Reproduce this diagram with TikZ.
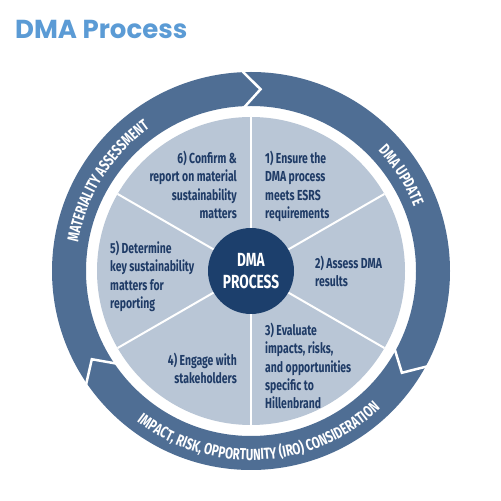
\documentclass[tikz,border=0pt]{standalone}
\usepackage{fontspec}
\usepackage{tikz}
\usetikzlibrary{decorations.text}
\newfontfamily\condfont[FakeStretch=0.72]{Fira Sans}
\newfontfamily\headfont{Poppins}
\definecolor{ringblue}{HTML}{4F6E94}
\definecolor{piegray}{HTML}{B9C6D6}
\definecolor{hubnavy}{HTML}{1C3F6C}
\definecolor{stepnavy}{HTML}{1F3B66}
\definecolor{titleblue}{HTML}{5B9BD5}

\begin{document}
\begin{tikzpicture}[x=1pt, y=1pt,
  steptext/.style={font=\condfont\bfseries\fontsize{14.5}{18.3}\selectfont,
    text=stepnavy, inner sep=0pt},
  ringtext/.style={decorate, decoration={text along path, text align=center,
    text color=white, text={|\condfont\bfseries\fontsize{16}{16}\selectfont|#1}}},
  gapline/.style={white, line width=2.5pt, line join=miter}]

  \newcommand\Rout{199}
  \newcommand\Rin{165}
  \newcommand\Rpie{154}

  \useasboundingbox[fill=white] (0,0) rectangle (501,501);
  \coordinate (c) at (251,230);

  % title
  \node[anchor=base west, inner sep=0pt, text=titleblue,
    font=\headfont\bfseries\fontsize{26}{26}\selectfont] (title) at (15,462) {DMA Process};

  % outer ring, cut in three arrows
  \fill[ringblue, even odd rule] (c) circle (\Rout) (c) circle (\Rin);
  \foreach \b in {93,-28,215}
    \draw[gapline, shift={(c)}] (\b:\Rout+3) -- (\b-6:182) -- (\b:\Rin-3);

  \path[ringtext={MATERIALITY ASSESSMENT}, shift={(c)}]
    (188:175) arc[start angle=188, end angle=108, radius=175];
  \path[ringtext={DMA UPDATE}, shift={(c)}]
    (72:175) arc[start angle=72, end angle=-7, radius=175];
  \path[ringtext={IMPACT, RISK, OPPORTUNITY (IRO) CONSIDERATION}, shift={(c)}]
    (193:189) arc[start angle=193, end angle=353, radius=189];

  % pie with six steps
  \fill[piegray] (c) circle (\Rpie);
  \foreach \a in {30,90,...,330}
    \draw[white, line width=2pt] (c) -- ++(\a:\Rpie);
  \node[circle, fill=hubnavy, minimum size=86pt, inner sep=0pt, text=white, align=center,
    font=\condfont\bfseries\fontsize{19}{22}\selectfont] (hub) at (c) {DMA\\PROCESS};

  \node[steptext, anchor=north west, align=left] (s1) at (265,350)
    {1) Ensure the\\DMA process\\meets ESRS\\requirements};
  \node[steptext, anchor=north west, align=left] (s2) at (315,245)
    {2) Assess DMA\\results};
  \node[steptext, anchor=north west, align=left] (s3) at (265,178)
    {3) Evaluate\\impacts, risks,\\and opportunities\\specific to\\Hillenbrand};
  \node[steptext, anchor=north east, align=right] (s4) at (237,148)
    {4) Engage with\\stakeholders};
  \node[steptext, anchor=north west, align=left] (s5) at (110,260)
    {5) Determine\\key sustainability\\matters for\\reporting};
  \node[steptext, anchor=north east, align=right] (s6) at (237,350)
    {6) Confirm \&\\report on material\\sustainability\\matters};

\end{tikzpicture}
\end{document}
